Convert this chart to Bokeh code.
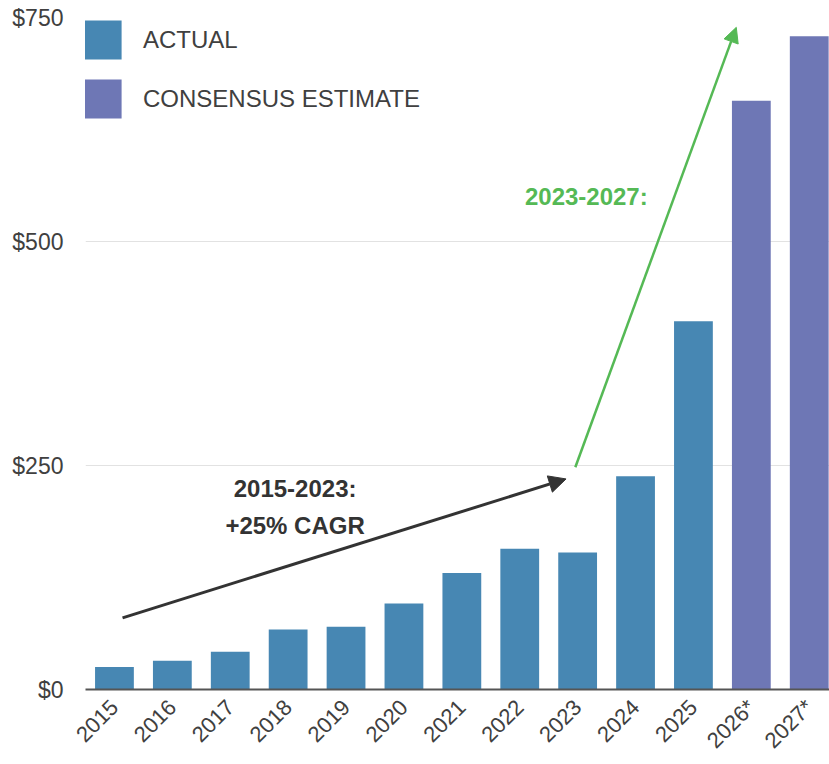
import math
from bokeh.plotting import figure
from bokeh.models import (ColumnDataSource, FixedTicker, Arrow, NormalHead, Label,
                          Legend, LegendItem, Range1d)
from bokeh.embed import file_html
from bokeh.resources import INLINE

# ---- data ----
years = ["2015", "2016", "2017", "2018", "2019", "2020", "2021", "2022",
         "2023", "2024", "2025", "2026*", "2027*"]
values = [25, 32, 42, 67, 70, 96, 130, 157, 153, 238, 411, 657, 729]
n_actual = 11
series_names = ["ACTUAL", "CONSENSUS ESTIMATE"]
series_colors = ["#4787b3", "#6e77b5"]
y_ticks = [0, 250, 500, 750]
y_tick_labels = ["$0", "$250", "$500", "$750"]

# annotations (x in bar-index units, y in $)
arrow1_start = (0.64, 80)
arrow1_end = (8.30, 235)
arrow2_start = (8.46, 248)
arrow2_end = (11.24, 739)
note1_lines = ["2015-2023:", "+25% CAGR"]
note1_pos = [(3.62, 224), (3.62, 183)]
note2_text = "2023-2027:"
note2_pos = (8.65, 550)

TXT = "#404040"
FONT = "Liberation Sans"

xs = [i + 0.5 for i in range(len(years))]
src_a = ColumnDataSource(dict(x=xs[:n_actual], top=values[:n_actual]))
src_e = ColumnDataSource(dict(x=xs[n_actual:], top=values[n_actual:]))

p = figure(width=829, height=764, output_backend="svg", toolbar_location=None,
           x_range=Range1d(0, 12.85), y_range=Range1d(0, 750),
           min_border_left=85, min_border_right=0, min_border_top=17,
           min_border_bottom=73)
p.outline_line_color = None
p.background_fill_color = "white"
p.border_fill_color = "white"

r_a = p.vbar(x="x", top="top", width=0.67, source=src_a,
             fill_color=series_colors[0], line_color=None)
r_e = p.vbar(x="x", top="top", width=0.67, source=src_e,
             fill_color=series_colors[1], line_color=None)

# axes
p.xaxis.ticker = FixedTicker(ticks=xs)
p.xaxis.major_label_overrides = {x: y for x, y in zip(xs, years)}
p.xaxis.major_label_orientation = math.pi / 4
p.xaxis.major_label_text_font = FONT
p.xaxis.major_label_text_font_size = "22px"
p.xaxis.major_label_text_color = TXT
p.xaxis.major_tick_line_color = None
p.xaxis.minor_tick_line_color = None
p.xaxis.major_tick_out = 0
p.xaxis.major_tick_in = 0
p.xaxis.major_label_standoff = 14
p.xaxis.axis_line_color = "#555555"
p.xaxis.axis_line_width = 2

p.yaxis.ticker = FixedTicker(ticks=y_ticks)
p.yaxis.major_label_overrides = {t: l for t, l in zip(y_ticks, y_tick_labels)}
p.yaxis.major_label_text_font = FONT
p.yaxis.major_label_text_font_size = "23px"
p.yaxis.major_label_text_color = TXT
p.yaxis.axis_line_color = None
p.yaxis.major_tick_line_color = None
p.yaxis.minor_tick_line_color = None
p.yaxis.major_tick_out = 0
p.yaxis.major_tick_in = 0
p.yaxis.major_label_standoff = 22

p.xgrid.grid_line_color = None
p.ygrid.ticker = FixedTicker(ticks=y_ticks[1:])
p.ygrid.grid_line_color = "#e2e2e2"
p.ygrid.grid_line_width = 1

# arrows
p.add_layout(Arrow(end=NormalHead(size=17, fill_color="#333333", line_color="#333333"),
                   x_start=arrow1_start[0], y_start=arrow1_start[1],
                   x_end=arrow1_end[0], y_end=arrow1_end[1],
                   line_color="#333333", line_width=3))
p.add_layout(Arrow(end=NormalHead(size=15, fill_color="#55b955", line_color="#55b955"),
                   x_start=arrow2_start[0], y_start=arrow2_start[1],
                   x_end=arrow2_end[0], y_end=arrow2_end[1],
                   line_color="#55b955", line_width=2.5))

for t, (x, y) in zip(note1_lines, note1_pos):
    p.add_layout(Label(x=x, y=y, text=t, text_align="center", text_baseline="middle",
                       text_font=FONT, text_font_style="bold",
                       text_font_size="24px", text_color="#333333"))
p.add_layout(Label(x=note2_pos[0], y=note2_pos[1], text=note2_text,
                   text_align="center", text_baseline="middle",
                   text_font=FONT, text_font_style="bold",
                   text_font_size="24px", text_color="#55b955"))

legend = Legend(items=[LegendItem(label=series_names[0], renderers=[r_a]),
                       LegendItem(label=series_names[1], renderers=[r_e])],
                location=(-8, 566), orientation="vertical",
                glyph_width=49, glyph_height=49, spacing=10, padding=0, margin=0,
                label_standoff=17, label_text_font=FONT, label_text_font_size="24px",
                label_text_color=TXT, border_line_color=None,
                background_fill_alpha=0)
p.add_layout(legend)

open("out.html", "w").write(file_html(p, INLINE))
